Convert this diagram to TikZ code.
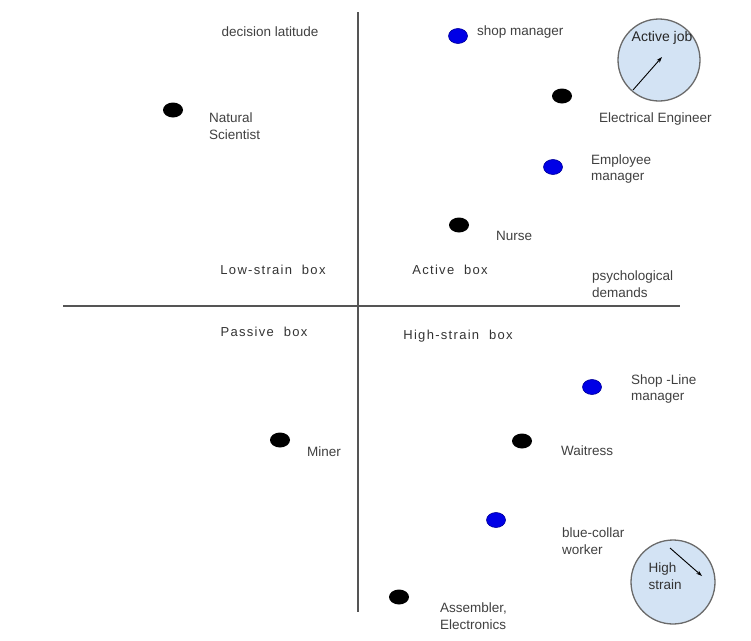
\documentclass[tikz,border=0pt]{standalone}
\usepackage{fontspec}
\setmainfont{Liberation Sans}
\newfontfamily\boxfont[LetterSpace=10]{Liberation Sans}
\usetikzlibrary{arrows.meta,shapes.geometric}
\definecolor{txt}{HTML}{404040}
\definecolor{boxtxt}{HTML}{333333}
\definecolor{axis}{HTML}{555555}
\definecolor{dotblue}{HTML}{0000E6}
\definecolor{circfill}{HTML}{D3E3F4}
\definecolor{circline}{HTML}{6A6A6A}
\tikzset{
  lbl/.style={font=\fontsize{13.5}{16.8}\selectfont, text=txt, inner sep=0pt, align=left, anchor=west},
  boxlbl/.style={font=\boxfont\fontsize{13}{15}\selectfont, text=boxtxt, inner sep=0pt},
  blackdot/.style={ellipse, fill=black, minimum width=20pt, minimum height=15pt, inner sep=0pt},
  bluedot/.style={ellipse, fill=dotblue, draw=blue!60!black, line width=0.6pt, minimum width=19pt, minimum height=15pt, inner sep=0pt},
  axisline/.style={draw=axis, line width=1.4pt},
  gauge/.style={circle, fill=circfill, draw=circline, line width=1.3pt, inner sep=0pt},
  needle/.style={-{Stealth[length=6pt,width=4pt]}, line width=0.9pt, black},
}
\begin{document}
\begin{tikzpicture}[x=1pt,y=-1pt]
\useasboundingbox (0,0) rectangle (751,640);
% axes
\coordinate (vt) at (358,12);
\coordinate (vb) at (358,612);
\coordinate (hl) at (63,306);
\coordinate (hr) at (680,306);
\draw[axisline] (vt) -- (vb);
\draw[axisline] (hl) -- (hr);

% axis / box labels
\node[lbl, anchor=center] (dl) at (270,32) {decision latitude};
\node[lbl] (pd) at (592,284) {psychological\\demands};
\node[boxlbl] (lsb) at (273,270) {Low-strain\ \ box};
\node[boxlbl] (ab) at (450,270) {Active\ \ box};
\node[boxlbl] (pb) at (264,332) {Passive\ \ box};
\node[boxlbl] (hsb) at (458,336) {High-strain\ \ box};

% gauges
\node[gauge, minimum size=82pt] (g1) at (659,60) {};
\coordinate (g1a) at (633,90);
\coordinate (g1b) at (662,57);
\draw[needle] (g1a) -- (g1b);
\node[lbl, anchor=center, text=black!85, font=\fontsize{14}{16.8}\selectfont] (g1t) at (662,38) {Active job};

\node[gauge, minimum size=84pt] (g2) at (673,582) {};
\coordinate (g2a) at (670,548);
\coordinate (g2b) at (702,576);
\draw[needle] (g2a) -- (g2b);
\node[lbl, anchor=center, text=black!80] (g2t) at (665,576) {High\\strain};

% occupations
\node[bluedot] (d1) at (458,36) {};
\node[lbl] (l1) at (477,32) {shop manager};

\node[blackdot] (d2) at (173,110) {};
\node[lbl] (l2) at (209,126) {Natural\\Scientist};

\node[blackdot] (d3) at (562,96) {};
\node[lbl] (l3) at (599,119) {Electrical Engineer};

\node[bluedot] (d4) at (553,167) {};
\node[lbl] (l4) at (591,169) {Employee\\manager};

\node[blackdot] (d5) at (459,225) {};
\node[lbl] (l5) at (496,236) {Nurse};

\node[bluedot] (d6) at (592,387) {};
\node[lbl] (l6) at (631,389) {Shop -Line\\manager};

\node[blackdot] (d7) at (280,440) {};
\node[lbl] (l7) at (307,452) {Miner};

\node[blackdot] (d8) at (522,441) {};
\node[lbl] (l8) at (561,451) {Waitress};

\node[bluedot] (d9) at (496,520) {};
\node[lbl] (l9) at (562,541) {blue-collar\\worker};

\node[blackdot] (d10) at (399,597) {};
\node[lbl] (l10) at (440,616) {Assembler,\\Electronics};
\end{tikzpicture}
\end{document}
